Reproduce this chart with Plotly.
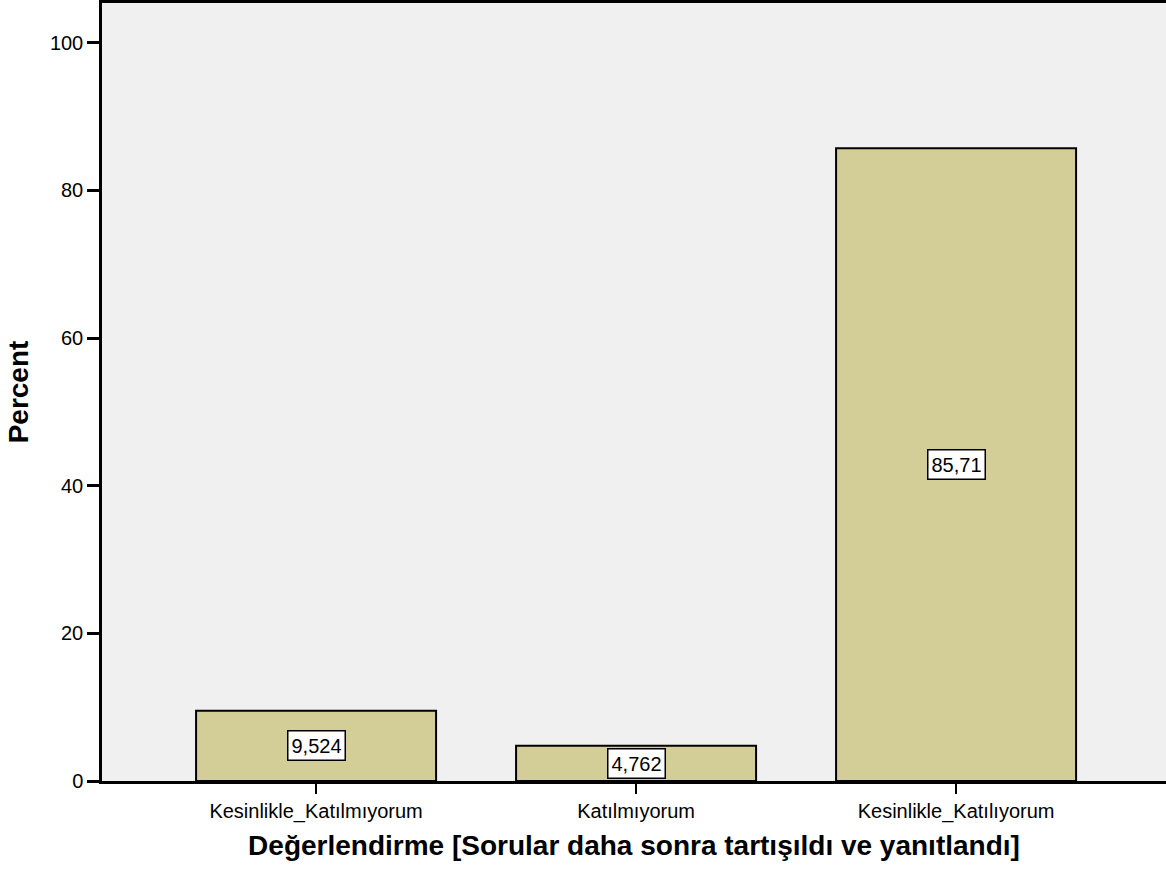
import plotly.graph_objects as go

categories = ["Kesinlikle_Katılmıyorum", "Katılmıyorum", "Kesinlikle_Katılıyorum"]
values = [9.524, 4.762, 85.71]
value_labels = ["9,524", "4,762", "85,71"]
y_ticks = [0, 20, 40, 60, 80, 100]

fig = go.Figure()
fig.add_trace(go.Bar(
    x=categories, y=values, width=0.75,
    marker=dict(color="#D3CE98", line=dict(color="black", width=2)),
    hoverinfo="skip",
))

for c, v, t in zip(categories, values, value_labels):
    fig.add_annotation(
        x=c, y=v / 2, text=t, showarrow=False,
        font=dict(family="Liberation Sans, Arial", size=20, color="black"),
        bgcolor="white", bordercolor="black", borderwidth=1.5, borderpad=3,
    )

fig.update_layout(
    width=1166, height=880,
    margin=dict(l=102, r=0, t=0, b=99),
    paper_bgcolor="white", plot_bgcolor="#F0F0F0",
    showlegend=False,
    font=dict(family="Liberation Sans, Arial", size=20, color="black"),
    bargap=0.25,
)
fig.update_xaxes(
    range=[-0.669, 2.656],
    showline=True, linecolor="black", linewidth=2.5, mirror=True,
    ticks="outside", ticklen=10, tickwidth=2, tickcolor="black",
    showgrid=False,
    tickfont=dict(size=20),
    title=dict(text="<b>Değerlendirme [Sorular daha sonra tartışıldı ve yanıtlandı]</b>",
               font=dict(size=28), standoff=14),
)
fig.update_yaxes(
    range=[0, 105.4],
    tickvals=y_ticks,
    showline=True, linecolor="black", linewidth=2.5,
    ticks="outside", ticklen=12, tickwidth=2.5, tickcolor="black",
    showgrid=False, zeroline=False,
    tickfont=dict(size=20),
    title=dict(text="<b>Percent</b>", font=dict(size=28), standoff=14),
)

fig.write_html(
    "out.html",
    config={"displayModeBar": False},
    post_script="document.body.style.margin='0';document.body.style.padding='0';",
)
